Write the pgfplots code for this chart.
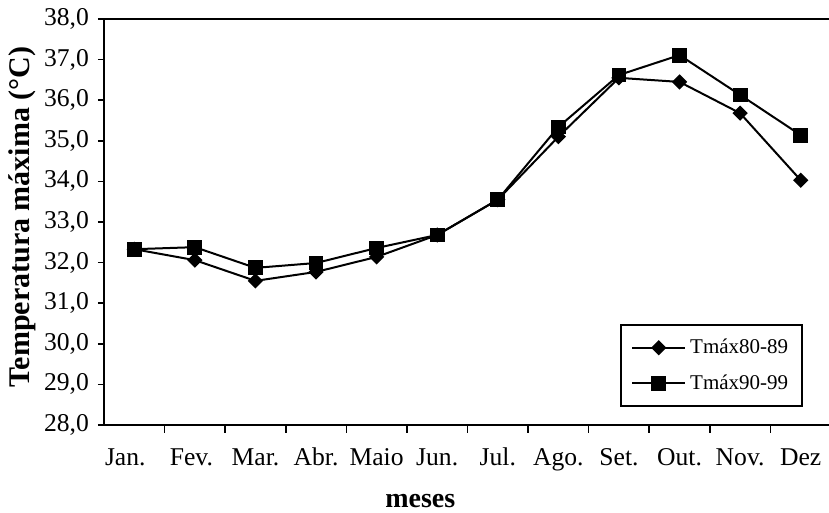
\documentclass[border=0pt]{standalone}
\usepackage{pgfplots}
\pgfplotsset{compat=1.18}
\usepackage{fontspec}
\setmainfont{Liberation Serif}
\begin{document}
\begin{tikzpicture}
\path[use as bounding box] (-52pt,-44pt) rectangle (362.5pt,212.5pt);
\begin{axis}[
  at={(0,0)}, anchor=south west,
  scale only axis,
  width=363.5pt, height=203pt,
  xmin=0.5, xmax=12.5,
  ymin=28, ymax=38,
  xtick={1,...,12},
  xticklabels={{\hspace*{-9pt}Jan.},{\hspace*{-3.5pt}Fev.},Mar.,Abr.,Maio,Jun.,Jul.,Ago.,Set.,Out.,Nov.,Dez},
  minor xtick={1.5,2.5,...,11.5},
  ytick={28,29,...,38},
  xtick pos=bottom, ytick pos=left,
  tick align=outside,
  major tick length=3pt,
  minor tick length=4pt,
  major x tick style={draw=none},
  tick style={black, line width=0.8pt},
  axis line style={line width=1pt},
  /pgf/number format/.cd, fixed, fixed zerofill, precision=1, use comma, assume math mode=true,
  /pgfplots/.cd,
  ticklabel style={font=\fontsize{12.8}{14}\selectfont},
  xticklabel style={anchor=base, yshift=-17.5pt},
  yticklabel style={anchor=east, xshift=-1pt},
  xlabel={\textbf{meses}},
  xlabel style={at={(axis description cs:0.435,-0.204)}, anchor=base, font=\fontsize{14}{16}\selectfont},
  ylabel={\textbf{Temperatura máxima (°C)}},
  ylabel style={at={(axis description cs:-0.112,0.512)}, anchor=center, rotate=0, font=\fontsize{15}{16}\selectfont},
  legend style={at={(axis description cs:0.9615,0.0443)}, anchor=south east,
    draw=black, line width=0.8pt, font=\fontsize{10.5}{12}\selectfont,
    row sep=5pt, inner xsep=5pt, inner ysep=5pt},
  legend cell align=left,
  legend image code/.code={\draw[#1, line width=1pt, mark repeat=2, mark phase=2] plot coordinates {(0pt,0pt) (13.25pt,0pt) (26.5pt,0pt)};},
]
\addplot[black, line width=1pt, mark=square*, mark size=2.2pt, mark options={rotate=45, solid}] coordinates {
(1,32.33) (2,32.06) (3,31.55) (4,31.77) (5,32.14) (6,32.68) (7,33.55) (8,35.10) (9,36.55) (10,36.45) (11,35.68) (12,34.03)};
\addlegendentry{Tmáx80-89}
\addplot[black, line width=1pt, mark=square*, mark size=3.2pt, mark options={solid}] coordinates {
(1,32.33) (2,32.38) (3,31.87) (4,31.99) (5,32.36) (6,32.68) (7,33.55) (8,35.34) (9,36.62) (10,37.11) (11,36.13) (12,35.14)};
\addlegendentry{Tmáx90-99}
\end{axis}
\end{tikzpicture}
\end{document}
